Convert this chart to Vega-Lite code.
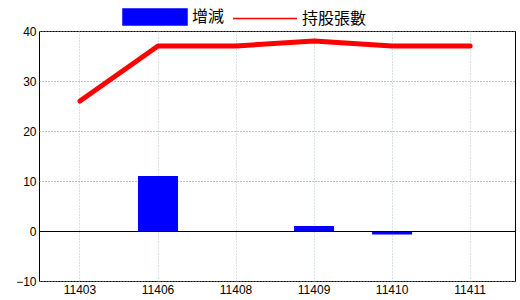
{
  "$schema": "https://vega.github.io/schema/vega-lite/v6.json",
  "autosize": "none",
  "width": 476,
  "height": 250,
  "padding": {"left": 39, "top": 31, "right": 5, "bottom": 19},
  "background": "#ffffff",
  "config": {
    "view": {"stroke": "#000000", "strokeWidth": 1},
    "axis": {"labelFont": "Liberation Sans Narrow, Liberation Sans, sans-serif", "labelFontSize": 12, "labelColor": "#000000", "title": null, "domain": false, "ticks": false},
    "axisX": {"labelAngle": 0, "labelPadding": 3, "grid": true, "gridColor": "#a8c8d8", "gridDash": [1, 2]},
    "axisY": {"labelPadding": 3, "grid": true, "gridColor": "#888888", "gridDash": [1, 2]}
  },
  "data": {
    "values": [
      {"month": "11403", "chg": null, "holdings": 26},
      {"month": "11406", "chg": 11, "holdings": 37},
      {"month": "11408", "chg": null, "holdings": 37},
      {"month": "11409", "chg": 1, "holdings": 38},
      {"month": "11410", "chg": -0.7, "holdings": 37},
      {"month": "11411", "chg": null, "holdings": 37}
    ]
  },
  "layer": [
    {
      "mark": {"type": "bar", "width": 40},
      "encoding": {
        "x": {
          "field": "month", "type": "nominal",
          "sort": ["11403", "11406", "11408", "11409", "11410", "11411"],
          "scale": {"type": "band", "paddingInner": 0, "paddingOuter": 0.05, "align": 0.25},
          "axis": {"bandPosition": 0.5}
        },
        "y": {
          "field": "chg", "type": "quantitative",
          "scale": {"domain": [-10, 40], "nice": false, "zero": false},
          "axis": {"values": [-10, 0, 10, 20, 30, 40], "gridColor": "#888888"}
        },
        "color": {
          "datum": "增減",
          "scale": {"domain": ["增減", "持股張數"], "range": ["#0000ff", "#ff0000"]},
          "legend": {
            "title": null,
            "orient": "none",
            "direction": "horizontal",
            "legendX": 83,
            "legendY": -47,
            "padding": 0,
            "symbolSize": 4096,
            "labelOffset": 4,
            "columnPadding": 5,
            "labelFont": "Noto Sans CJK TC",
            "labelFontSize": 16,
            "labelColor": "#000000",
            "encode": {
              "symbols": {
                "update": {
                  "shape": {"signal": "datum.value === '增減' ? 'M-1,-0.25H1V0.25H-1Z' : 'stroke'"},
                  "fill": {"signal": "datum.value === '增減' ? '#0000ff' : 'transparent'"},
                  "stroke": {"signal": "datum.value === '增減' ? 'transparent' : '#ff0000'"},
                  "strokeWidth": {"value": 1.5},
                  "opacity": {"value": 1}
                }
              }
            }
          }
        }
      }
    },
    {
      "mark": {"type": "line", "strokeWidth": 5, "strokeCap": "round", "strokeJoin": "round"},
      "encoding": {
        "x": {
          "field": "month", "type": "nominal",
          "sort": ["11403", "11406", "11408", "11409", "11410", "11411"]
        },
        "y": {"field": "holdings", "type": "quantitative"},
        "color": {"datum": "持股張數"}
      }
    },
    {
      "mark": {"type": "rule", "color": "#000000", "strokeWidth": 1, "yOffset": 0.5},
      "encoding": {"y": {"datum": 0}}
    }
  ]
}
